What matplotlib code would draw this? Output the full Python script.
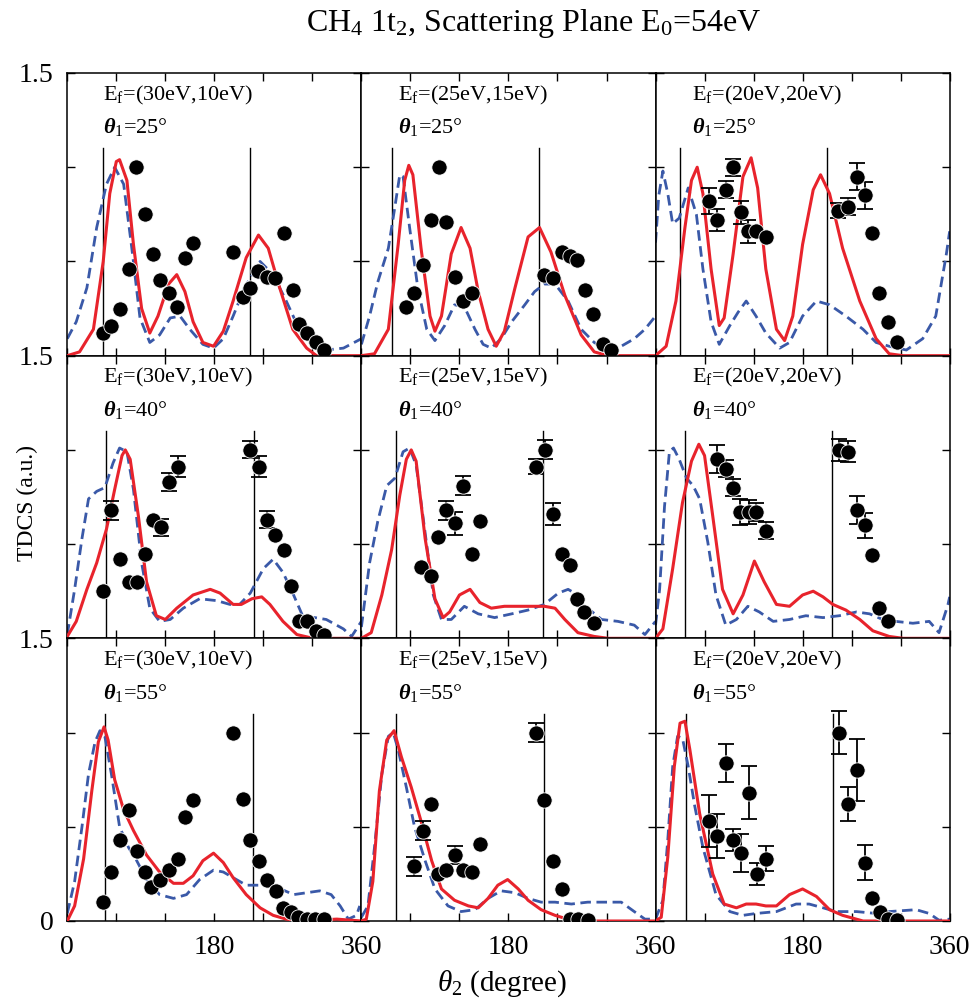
import numpy as np
import matplotlib
matplotlib.use("Agg")
import matplotlib.pyplot as plt

plt.rcParams["font.family"] = ["Liberation Serif", "DejaVu Serif"]
plt.rcParams["mathtext.fontset"] = "custom"
plt.rcParams["mathtext.rm"] = "Liberation Serif"
plt.rcParams["mathtext.it"] = "Liberation Serif:italic"
plt.rcParams["mathtext.bf"] = "Liberation Serif:bold:italic"

# ---- data (theta2 in degrees, TDCS in a.u.) ----
# Ef = (30eV,10eV), theta1 = 25
exp_30_25_th = [44, 54, 64, 75, 84, 95, 105, 113, 124, 134, 144, 154, 203, 215, 224, 234, 244, 254, 265, 276, 284, 293, 305, 314]
exp_30_25_y = [0.12, 0.16, 0.25, 0.46, 1.00, 0.75, 0.54, 0.40, 0.33, 0.26, 0.52, 0.60, 0.55, 0.31, 0.36, 0.45, 0.42, 0.41, 0.65, 0.35, 0.17, 0.12, 0.07, 0.03]
exp_30_25_err = [0] * 24
red_30_25_th = [0, 15, 32, 44, 52, 60, 64, 73, 81, 91, 101, 111, 124, 134, 144, 154, 166, 179, 191, 203, 219, 234, 246, 260, 276, 293, 305, 360]
red_30_25_y = [0, 0.02, 0.14, 0.50, 0.86, 1.03, 1.04, 0.93, 0.59, 0.25, 0.12, 0.21, 0.38, 0.43, 0.34, 0.18, 0.07, 0.05, 0.13, 0.29, 0.52, 0.64, 0.57, 0.36, 0.14, 0.04, 0.0, 0]
blue_30_25_th = [0, 11, 24, 36, 48, 58, 69, 79, 89, 101, 113, 126, 138, 150, 166, 179, 191, 203, 217, 236, 252, 268, 285, 301, 317, 338, 360]
blue_30_25_y = [0.09, 0.18, 0.36, 0.68, 0.91, 1.00, 0.91, 0.57, 0.20, 0.07, 0.11, 0.20, 0.21, 0.14, 0.06, 0.04, 0.09, 0.21, 0.36, 0.50, 0.43, 0.29, 0.13, 0.05, 0.03, 0.04, 0.09]
vlines_30_25 = [44, 224]

# Ef = (25eV,15eV), theta1 = 25
exp_25_25_th = [55, 64, 75, 85, 95, 104, 114, 124, 135, 223, 235, 245, 255, 264, 274, 283, 296, 306]
exp_25_25_y = [0.26, 0.33, 0.48, 0.72, 1.00, 0.71, 0.42, 0.29, 0.33, 0.43, 0.41, 0.55, 0.53, 0.51, 0.35, 0.22, 0.06, 0.03]
exp_25_25_err = [0] * 18
red_25_25_th = [0, 16, 33, 45, 53, 58, 63, 73, 84, 90, 98, 110, 122, 133, 143, 155, 165, 175, 188, 204, 218, 232, 249, 269, 285, 302, 360]
red_25_25_y = [0, 0.01, 0.14, 0.59, 0.93, 1.01, 0.96, 0.57, 0.21, 0.13, 0.21, 0.54, 0.68, 0.57, 0.34, 0.14, 0.05, 0.13, 0.36, 0.63, 0.68, 0.55, 0.32, 0.11, 0.02, 0, 0]
blue_25_25_th = [0, 10, 20, 33, 41, 47, 51, 59, 69, 80, 90, 102, 114, 126, 139, 149, 159, 171, 184, 200, 212, 224, 237, 253, 269, 285, 302, 318, 334, 347, 360]
blue_25_25_y = [0.06, 0.21, 0.39, 0.57, 0.79, 0.96, 0.95, 0.68, 0.36, 0.14, 0.08, 0.16, 0.27, 0.26, 0.14, 0.06, 0.04, 0.09, 0.18, 0.27, 0.34, 0.38, 0.38, 0.29, 0.14, 0.07, 0.03, 0.05, 0.09, 0.14, 0.21]
vlines_25_25 = [37, 217]

# Ef = (20eV,20eV), theta1 = 25
exp_20_25_th = [65, 75, 86, 95, 105, 113, 123, 135, 223, 235, 246, 256, 265, 274, 284, 295]
exp_20_25_y = [0.82, 0.72, 0.88, 1.00, 0.76, 0.66, 0.66, 0.63, 0.77, 0.79, 0.95, 0.85, 0.65, 0.33, 0.18, 0.07]
exp_20_25_err = [0.07, 0.06, 0.045, 0.046, 0.06, 0.06, 0, 0, 0.04, 0.045, 0.07, 0.07, 0, 0, 0, 0]
red_20_25_th = [0, 13, 25, 36, 44, 51, 58, 68, 78, 84, 95, 107, 117, 125, 135, 148, 158, 168, 180, 193, 202, 213, 229, 250, 270, 286, 303, 360]
red_20_25_y = [0, 0.05, 0.29, 0.68, 0.93, 1.00, 0.86, 0.46, 0.16, 0.20, 0.54, 0.95, 1.05, 0.89, 0.46, 0.14, 0.08, 0.21, 0.59, 0.88, 0.96, 0.86, 0.57, 0.29, 0.09, 0.01, 0, 0]
blue_20_25_th = [0, 4, 9, 15, 21, 29, 40, 50, 58, 68, 78, 91, 101, 111, 123, 135, 152, 164, 180, 197, 213, 233, 254, 270, 286, 307, 327, 343, 356, 360]
blue_20_25_y = [0.60, 0.85, 0.98, 0.86, 0.70, 0.73, 0.89, 0.75, 0.46, 0.18, 0.06, 0.16, 0.23, 0.29, 0.21, 0.12, 0.04, 0.07, 0.21, 0.29, 0.27, 0.21, 0.14, 0.07, 0.05, 0.03, 0.09, 0.21, 0.54, 0.66]
vlines_20_25 = [30, 210]

# Ef = (30eV,10eV), theta1 = 40
exp_30_40_th = [44, 54, 64, 75, 85, 95, 105, 115, 124, 135, 224, 235, 245, 254, 265, 274, 284, 294, 304, 314]
exp_30_40_y = [0.25, 0.68, 0.42, 0.30, 0.30, 0.45, 0.63, 0.59, 0.83, 0.91, 1.00, 0.91, 0.63, 0.55, 0.47, 0.28, 0.09, 0.09, 0.04, 0.02]
exp_30_40_err = [0, 0.05, 0, 0, 0, 0, 0, 0.045, 0.05, 0.055, 0.045, 0.055, 0.045, 0, 0, 0, 0, 0, 0, 0]
red_30_40_th = [0, 11, 24, 36, 48, 58, 67, 71, 77, 87, 97, 109, 120, 134, 154, 175, 187, 203, 213, 226, 238, 248, 264, 281, 301, 360]
red_30_40_y = [0.01, 0.09, 0.26, 0.40, 0.58, 0.79, 0.97, 1.00, 0.95, 0.65, 0.30, 0.12, 0.10, 0.16, 0.23, 0.26, 0.24, 0.18, 0.18, 0.21, 0.22, 0.18, 0.09, 0.02, 0, 0]
blue_30_40_th = [0, 9, 18, 26, 36, 46, 56, 64, 73, 81, 91, 101, 113, 126, 142, 162, 183, 199, 211, 224, 240, 252, 264, 277, 289, 303, 317, 338, 348, 360]
blue_30_40_y = [0.02, 0.26, 0.53, 0.74, 0.78, 0.80, 0.93, 1.01, 0.99, 0.79, 0.40, 0.16, 0.09, 0.10, 0.16, 0.21, 0.20, 0.18, 0.18, 0.24, 0.37, 0.42, 0.35, 0.23, 0.11, 0.11, 0.10, 0.05, 0.01, 0.09]
vlines_30_40 = [48, 228]

# Ef = (25eV,15eV), theta1 = 40
exp_25_40_th = [73, 85, 94, 104, 114, 124, 135, 145, 214, 225, 235, 246, 255, 264, 273, 285]
exp_25_40_y = [0.38, 0.33, 0.54, 0.68, 0.61, 0.81, 0.45, 0.62, 0.91, 1.00, 0.66, 0.45, 0.39, 0.21, 0.14, 0.08]
exp_25_40_err = [0, 0, 0, 0.05, 0.06, 0.05, 0, 0, 0.04, 0.05, 0.06, 0, 0, 0, 0, 0]
red_25_40_th = [0, 12, 25, 37, 47, 55, 61, 67, 78, 90, 100, 108, 120, 133, 145, 159, 175, 192, 208, 224, 237, 249, 265, 285, 302, 360]
red_25_40_y = [0, 0.03, 0.23, 0.47, 0.76, 0.95, 1.00, 0.94, 0.53, 0.21, 0.11, 0.14, 0.23, 0.26, 0.19, 0.16, 0.17, 0.17, 0.17, 0.17, 0.16, 0.10, 0.03, 0.01, 0, 0]
blue_25_40_th = [0, 10, 20, 31, 41, 51, 59, 67, 78, 88, 98, 110, 126, 143, 163, 184, 204, 224, 241, 253, 265, 277, 294, 314, 334, 347, 360]
blue_25_40_y = [0.06, 0.40, 0.62, 0.81, 0.85, 0.99, 1.01, 0.92, 0.56, 0.23, 0.10, 0.10, 0.17, 0.13, 0.11, 0.13, 0.15, 0.18, 0.24, 0.26, 0.23, 0.16, 0.10, 0.09, 0.07, 0.02, 0.09]
vlines_25_40 = [42, 222]

# Ef = (20eV,20eV), theta1 = 40
exp_20_40_th = [75, 86, 95, 104, 114, 123, 135, 225, 236, 246, 256, 265, 274, 284]
exp_20_40_y = [0.95, 0.90, 0.80, 0.67, 0.67, 0.67, 0.57, 1.00, 0.99, 0.68, 0.60, 0.44, 0.16, 0.09]
exp_20_40_err = [0.075, 0.045, 0.045, 0.07, 0.065, 0.05, 0.045, 0.06, 0.055, 0.075, 0.065, 0, 0, 0]
red_20_40_th = [0, 9, 21, 33, 44, 53, 60, 70, 82, 95, 107, 121, 133, 148, 164, 180, 193, 205, 217, 233, 250, 266, 286, 303, 360]
red_20_40_y = [0, 0.05, 0.37, 0.72, 0.94, 1.03, 0.97, 0.65, 0.26, 0.13, 0.23, 0.41, 0.30, 0.18, 0.17, 0.23, 0.25, 0.22, 0.18, 0.15, 0.10, 0.04, 0.01, 0, 0]
blue_20_40_th = [0, 5, 11, 17, 22, 29, 38, 46, 54, 64, 74, 86, 99, 113, 127, 144, 164, 184, 205, 225, 246, 262, 278, 294, 315, 335, 347, 358, 360]
blue_20_40_y = [0.07, 0.26, 0.70, 0.99, 1.01, 0.95, 0.85, 0.81, 0.74, 0.51, 0.23, 0.07, 0.10, 0.17, 0.14, 0.09, 0.10, 0.12, 0.11, 0.12, 0.14, 0.13, 0.10, 0.09, 0.08, 0.09, 0.03, 0.18, 0.22]
vlines_20_40 = [36, 216]

# Ef = (30eV,10eV), theta1 = 55
exp_30_55_th = [44, 54, 64, 75, 85, 95, 103, 113, 124, 135, 144, 154, 203, 215, 224, 235, 245, 255, 264, 274, 283, 293, 303, 314]
exp_30_55_y = [0.10, 0.26, 0.43, 0.59, 0.37, 0.26, 0.18, 0.22, 0.27, 0.33, 0.55, 0.64, 1.00, 0.65, 0.43, 0.32, 0.22, 0.16, 0.07, 0.05, 0.02, 0.01, 0.01, 0.01]
exp_30_55_err = [0] * 24
red_30_55_th = [0, 9, 20, 30, 38, 45, 50, 58, 69, 81, 97, 113, 130, 142, 154, 166, 179, 191, 203, 219, 236, 252, 268, 285, 330, 360]
red_30_55_y = [0, 0.08, 0.33, 0.69, 0.95, 1.03, 0.96, 0.75, 0.59, 0.48, 0.35, 0.26, 0.20, 0.20, 0.24, 0.32, 0.36, 0.31, 0.23, 0.14, 0.07, 0.03, 0.01, 0, 0.01, 0]
blue_30_55_th = [0, 9, 18, 26, 34, 40, 46, 54, 64, 75, 85, 97, 113, 130, 146, 162, 179, 191, 203, 219, 236, 256, 277, 293, 309, 323, 334, 344, 354, 358]
blue_30_55_y = [0.04, 0.21, 0.50, 0.78, 0.95, 1.01, 0.98, 0.78, 0.50, 0.39, 0.32, 0.22, 0.14, 0.12, 0.14, 0.22, 0.27, 0.26, 0.23, 0.19, 0.19, 0.18, 0.14, 0.15, 0.16, 0.14, 0.08, 0.01, 0.03, 0.08]
vlines_30_55 = [46, 227]

# Ef = (25eV,15eV), theta1 = 55
exp_25_55_th = [64, 75, 85, 94, 104, 114, 124, 135, 145, 214, 224, 235, 246, 255, 265, 277]
exp_25_55_y = [0.29, 0.48, 0.62, 0.25, 0.27, 0.35, 0.27, 0.26, 0.41, 1.00, 0.64, 0.32, 0.17, 0.01, 0.01, 0.005]
exp_25_55_err = [0.05, 0.05, 0, 0, 0, 0.05, 0, 0, 0, 0.05, 0, 0, 0, 0, 0, 0]
red_25_55_th = [0, 6, 14, 22, 31, 40, 49, 61, 73, 86, 98, 114, 131, 143, 155, 167, 179, 192, 204, 220, 237, 257, 277, 360]
red_25_55_y = [0, 0.01, 0.21, 0.69, 0.96, 1.01, 0.87, 0.71, 0.53, 0.32, 0.17, 0.11, 0.08, 0.07, 0.12, 0.19, 0.22, 0.17, 0.11, 0.06, 0.03, 0.004, 0, 0]
blue_25_55_th = [0, 8, 16, 25, 33, 39, 45, 55, 65, 78, 90, 106, 122, 139, 155, 171, 188, 204, 220, 237, 257, 277, 302, 318, 334, 347, 360]
blue_25_55_y = [0.02, 0.08, 0.39, 0.78, 0.98, 1.00, 0.91, 0.71, 0.50, 0.32, 0.17, 0.08, 0.05, 0.06, 0.12, 0.16, 0.15, 0.12, 0.10, 0.10, 0.09, 0.10, 0.10, 0.10, 0.05, 0.01, 0.01]
vlines_25_55 = [42, 223]

# Ef = (20eV,20eV), theta1 = 55
exp_20_55_th = [65, 75, 86, 95, 105, 115, 124, 135, 225, 235, 246, 256, 265, 275, 285, 295]
exp_20_55_y = [0.53, 0.45, 0.84, 0.43, 0.36, 0.68, 0.25, 0.33, 1.00, 0.62, 0.80, 0.31, 0.12, 0.05, 0.01, 0.004]
exp_20_55_err = [0.136, 0.116, 0.10, 0.06, 0.10, 0.14, 0.06, 0.066, 0.116, 0.09, 0.164, 0.094, 0, 0, 0, 0]
red_20_55_th = [0, 7, 15, 23, 30, 36, 42, 54, 70, 84, 99, 111, 123, 135, 148, 164, 180, 197, 213, 229, 254, 360]
red_20_55_y = [0, 0.02, 0.34, 0.82, 1.05, 1.06, 0.91, 0.57, 0.25, 0.09, 0.07, 0.09, 0.09, 0.08, 0.08, 0.14, 0.17, 0.13, 0.06, 0.03, 0, 0]
blue_20_55_th = [0, 9, 15, 21, 27, 33, 40, 48, 58, 74, 91, 107, 123, 148, 172, 188, 205, 221, 246, 270, 286, 319, 335, 347, 360]
blue_20_55_y = [0.01, 0.11, 0.43, 0.82, 0.98, 0.97, 0.82, 0.61, 0.39, 0.14, 0.05, 0.03, 0.04, 0.05, 0.09, 0.09, 0.07, 0.05, 0.05, 0.04, 0.05, 0.06, 0.04, 0.004, 0.01]
vlines_20_55 = [37, 217]

energies = ["(30eV,10eV)", "(25eV,15eV)", "(20eV,20eV)"]
theta1s = [25, 40, 55]

panels = [
    [(exp_30_25_th, exp_30_25_y, exp_30_25_err, red_30_25_th, red_30_25_y, blue_30_25_th, blue_30_25_y, vlines_30_25),
     (exp_25_25_th, exp_25_25_y, exp_25_25_err, red_25_25_th, red_25_25_y, blue_25_25_th, blue_25_25_y, vlines_25_25),
     (exp_20_25_th, exp_20_25_y, exp_20_25_err, red_20_25_th, red_20_25_y, blue_20_25_th, blue_20_25_y, vlines_20_25)],
    [(exp_30_40_th, exp_30_40_y, exp_30_40_err, red_30_40_th, red_30_40_y, blue_30_40_th, blue_30_40_y, vlines_30_40),
     (exp_25_40_th, exp_25_40_y, exp_25_40_err, red_25_40_th, red_25_40_y, blue_25_40_th, blue_25_40_y, vlines_25_40),
     (exp_20_40_th, exp_20_40_y, exp_20_40_err, red_20_40_th, red_20_40_y, blue_20_40_th, blue_20_40_y, vlines_20_40)],
    [(exp_30_55_th, exp_30_55_y, exp_30_55_err, red_30_55_th, red_30_55_y, blue_30_55_th, blue_30_55_y, vlines_30_55),
     (exp_25_55_th, exp_25_55_y, exp_25_55_err, red_25_55_th, red_25_55_y, blue_25_55_th, blue_25_55_y, vlines_25_55),
     (exp_20_55_th, exp_20_55_y, exp_20_55_err, red_20_55_th, red_20_55_y, blue_20_55_th, blue_20_55_y, vlines_20_55)],
]

RED = "#e8232c"
BLUE = "#3a59a8"

fig = plt.figure(figsize=(9.75, 10), dpi=100)
gs = fig.add_gridspec(3, 3, left=0.069, right=0.974, top=0.927, bottom=0.079,
                      wspace=0, hspace=0)

for r in range(3):
    for c in range(3):
        ax = fig.add_subplot(gs[r, c])
        eth, ey, eerr, rth, ry, bth, by, vl = panels[r][c]

        # kinematic markers
        for v in vl:
            ax.plot([v, v], [0, 1.1], color="black", lw=1.0, zorder=1)

        ax.plot(bth, by, color=BLUE, lw=2.0, dashes=(3.8, 2.0), zorder=2)
        ax.plot(rth, ry, color=RED, lw=2.2, zorder=3)

        eth = np.array(eth)
        ey = np.array(ey)
        eerr = np.array(eerr)
        has_err = eerr > 0
        if has_err.any():
            ax.errorbar(eth[has_err], ey[has_err], yerr=eerr[has_err], fmt="none",
                        ecolor="black", elinewidth=1.3, capsize=5.5, capthick=1.3,
                        zorder=4)
        ax.plot(eth, ey, "o", color="black", ms=11, mec="white", mew=0.6,
                zorder=5)

        ax.text(0.123, 0.904, "E$_\\mathregular{f}$=" + energies[c],
                transform=ax.transAxes, fontsize=16, va="baseline")
        ax.text(0.123, 0.787, "$\\mathbf{\\theta}_\\mathregular{1}$=%d°" % theta1s[r],
                transform=ax.transAxes, fontsize=16, va="baseline")

        ax.set_xlim(0, 360)
        ax.set_ylim(0, 1.5)
        ax.set_xticks(np.arange(0, 361, 60))
        ax.set_yticks([0, 0.5, 1.0, 1.5])
        ax.tick_params(direction="in", top=True, right=True, length=6,
                       width=1.0, labelsize=20, pad=10)
        for sp in ax.spines.values():
            sp.set_linewidth(1.1)

        if r == 2:
            first = "0" if c == 0 else ""
            ax.set_xticklabels([first, "", "", "180", "", "", "360"])
        else:
            ax.set_xticklabels([])
        if c == 0:
            bottom = "0" if r == 2 else ""
            ax.set_yticklabels([bottom, "", "", "1.5"])
        else:
            ax.set_yticklabels([])

fig.text(0.547, 0.977, "CH$_4$ 1t$_2$, Scattering Plane E$_0$=54eV",
         ha="center", va="center", fontsize=23)
fig.text(0.028, 0.497, "TDCS (a.u.)", rotation=90, ha="center", va="center",
         fontsize=17)
fig.text(0.515, 0.016, "$\\theta_2$ (degree)", ha="center", va="center",
         fontsize=21)

fig.savefig("out.png", dpi=100)
